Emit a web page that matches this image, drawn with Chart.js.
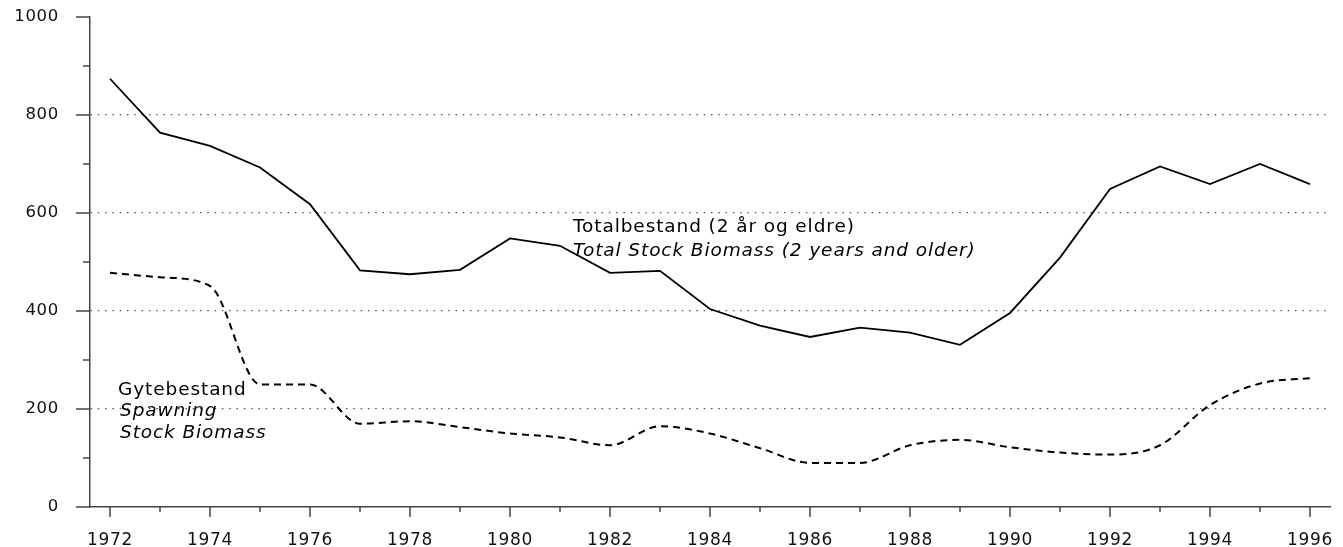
<!DOCTYPE html>
<html><head><meta charset="utf-8">
<script src="https://cdn.jsdelivr.net/npm/chart.js@4"></script>
<style>html,body{margin:0;padding:0;background:#fff}#wrap{width:1343px;height:547px;position:relative}</style>
</head><body><div id="wrap"><canvas id="c"></canvas></div>
<script>
// ---- data ----
const years = [1972,1973,1974,1975,1976,1977,1978,1979,1980,1981,1982,1983,1984,1985,1986,1987,1988,1989,1990,1991,1992,1993,1994,1995,1996];
const totalStock = [874,764,737,693,618,483,475,484,548,533,478,482,404,370,347,366,356,331,396,509,649,695,659,700,659];
const spawningStock = [478,469,451,250,250,170,175,163,150,142,126,165,150,120,90,90,126,137,122,111,107,126,208,252,263];
const xTickLabels = [1972,1974,1976,1978,1980,1982,1984,1986,1988,1990,1992,1994,1996];
const yTickLabels = [0,200,400,600,800,1000];
const gridValues = [200,400,600,800];
const annotationTexts = ["Totalbestand (2 år og eldre)","Total Stock Biomass (2 years and older)","Gytebestand","Spawning","Stock Biomass"];
const annotationX = [1981.26,1981.26,1972.16,1972.2,1972.2];
const annotationY = [561,512,229,185,141];
const annotationItalic = [false,true,false,true,true];

const FONT = "'DejaVu Sans', 'Liberation Sans', Arial, sans-serif";
const AXIS_COLOR = '#444';

const tickMarksPlugin = {
  id: 'tickMarks',
  afterDraw(chart) {
    const ctx = chart.ctx;
    const xs = chart.scales.x, ys = chart.scales.y;
    const left = chart.chartArea.left, bottom = chart.chartArea.bottom;
    ctx.save();
    ctx.strokeStyle = AXIS_COLOR;
    ctx.lineWidth = 1.5;
    ctx.beginPath();
    for (let v = 0; v <= 1000; v += 100) {
      const py = ys.getPixelForValue(v);
      const len = yTickLabels.includes(v) ? 14 : 7;
      ctx.moveTo(left - len, py); ctx.lineTo(left, py);
    }
    for (const yr of years) {
      const px = xs.getPixelForValue(yr);
      const len = xTickLabels.includes(yr) ? 10 : 5;
      ctx.moveTo(px, bottom); ctx.lineTo(px, bottom + len);
    }
    ctx.stroke();
    try { ctx.letterSpacing = '0.7px'; } catch(e) {}
    ctx.fillStyle = '#111';
    ctx.font = '16.5px ' + FONT;
    ctx.textAlign = 'right';
    ctx.textBaseline = 'middle';
    for (const v of yTickLabels) {
      ctx.fillText(String(v), left - 31, ys.getPixelForValue(v));
    }
    ctx.restore();
  }
};

const annotationPlugin = {
  id: 'annot',
  afterDatasetsDraw(chart) {
    const ctx = chart.ctx;
    const xs = chart.scales.x, ys = chart.scales.y;
    ctx.save();
    try { ctx.letterSpacing = '0.9px'; } catch(e) {}
    ctx.fillStyle = '#000';
    ctx.textAlign = 'left';
    ctx.textBaseline = 'alphabetic';
    annotationTexts.forEach((t, i) => {
      ctx.font = (annotationItalic[i] ? 'italic ' : '') + '18.5px ' + FONT;
      ctx.fillText(t, xs.getPixelForValue(annotationX[i]), ys.getPixelForValue(annotationY[i]));
    });
    ctx.restore();
  }
};

const letterSpacingPlugin = {
  id: 'ls',
  beforeDraw(chart) { try { chart.ctx.letterSpacing = '0.7px'; } catch(e) {} }
};

new Chart(document.getElementById('c'), {
  type: 'line',
  data: {
    datasets: [
      {
        label: 'Totalbestand',
        data: years.map((y, i) => ({x: y, y: totalStock[i]})),
        borderColor: '#000', borderWidth: 1.8, pointRadius: 0, tension: 0, fill: false
      },
      {
        label: 'Gytebestand',
        data: years.map((y, i) => ({x: y, y: spawningStock[i]})),
        borderColor: '#000', borderWidth: 2, borderDash: [7, 5], pointRadius: 0,
        cubicInterpolationMode: 'monotone', fill: false
      }
    ]
  },
  options: {
    responsive: true,
    maintainAspectRatio: false,
    animation: false,
    events: [],
    layout: { padding: { top: 17, right: 13, left: 0, bottom: 0 } },
    plugins: { legend: { display: false }, tooltip: { enabled: false } },
    scales: {
      x: {
        type: 'linear', min: 1971.6, max: 1996.4,
        afterBuildTicks(s) { s.ticks = xTickLabels.map(v => ({value: v})); },
        afterFit(s) { s.height = 40; s.paddingLeft = 0; s.paddingRight = 0; },
        grid: { display: false, drawTicks: false },
        border: { display: true, color: AXIS_COLOR, width: 1.5 },
        ticks: { padding: 23, color: '#111', maxRotation: 0, autoSkip: false,
                 font: { family: FONT, size: 17 }, callback: v => String(v) }
      },
      y: {
        min: 0, max: 1000,
        afterBuildTicks(s) { s.ticks = yTickLabels.map(v => ({value: v})); },
        afterFit(s) { s.width = 90; s.paddingTop = 0; s.paddingBottom = 0; },
        grid: {
          display: true, drawTicks: false, lineWidth: 1.2,
          color: c => gridValues.includes(c.tick && c.tick.value) ? '#555' : 'rgba(0,0,0,0)'
        },
        border: { display: true, color: AXIS_COLOR, width: 1.5, dash: [1.5, 5.8] },
        ticks: { display: false }
      }
    }
  },
  plugins: [letterSpacingPlugin, tickMarksPlugin, annotationPlugin]
});
</script>
</body></html>
